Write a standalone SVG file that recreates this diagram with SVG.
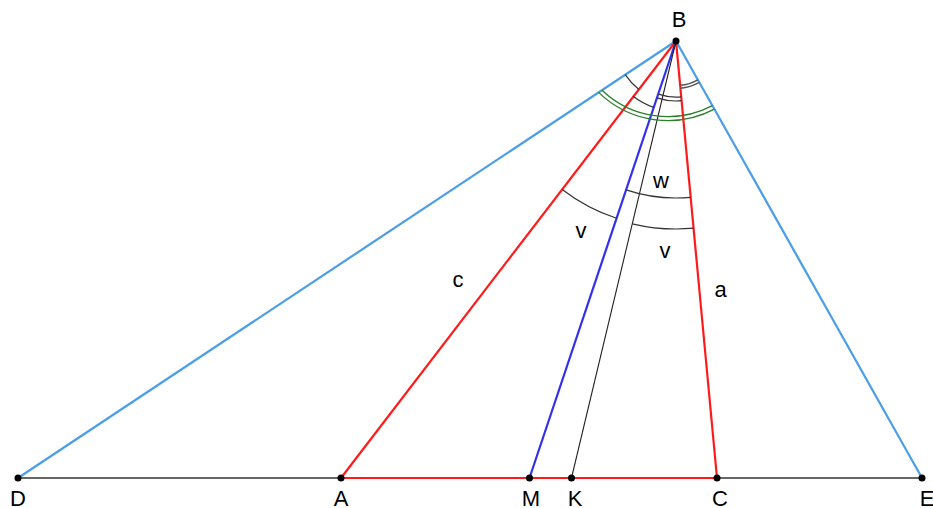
<svg xmlns="http://www.w3.org/2000/svg" width="933" height="508" viewBox="0 0 933 508">
<style>
text{font-family:"Liberation Sans",Arial,sans-serif;font-size:22px;fill:#000;text-anchor:middle}
.pt{fill:#000}
.base{stroke:#333;stroke-width:1.3;fill:none}
.red{stroke:#ff1a1a;stroke-width:2.2;fill:none}
.lblue{stroke:#4a9de8;stroke-width:2.2;fill:none}
.dblue{stroke:#3030ee;stroke-width:2.2;fill:none}
.thin{stroke:#222;stroke-width:1.1;fill:none}
.arc{stroke:#333;stroke-width:1.2;fill:none}
.garc{stroke:#2a7f2a;stroke-width:1.3;fill:none}
.gray{stroke:#555;stroke-width:1.4;fill:none}
</style>
<rect width="933" height="508" fill="#fff"/>
<g id="connectors">
<line class="base" x1="18" y1="478" x2="922" y2="478"/>
<line class="red" x1="341" y1="478" x2="717" y2="478"/>
<line class="lblue" x1="676" y1="41" x2="18" y2="478"/>
<line class="lblue" x1="676" y1="41" x2="922" y2="478"/>
<line class="red" x1="676" y1="41" x2="341" y2="478"/>
<line class="red" x1="676" y1="41" x2="717" y2="478"/>
<line class="dblue" x1="676" y1="41" x2="529.5" y2="478"/>
<line class="thin" x1="676" y1="41" x2="571.5" y2="478"/>
</g>
<g id="angles">
<path class="arc" d="M625.2,74.7 A61,61 0 0 0 638.9,89.4"/>
<path class="arc" d="M633.4,96.6 A70,70 0 0 0 653.7,107.4"/>
<path class="arc" d="M658.2,94.1 A56,56 0 0 0 681.2,96.8"/>
<path class="arc" d="M656.9,97.9 A60,60 0 0 0 681.6,100.7"/>
<path class="gray" d="M680.2,85.3 A44.5,44.5 0 0 0 697.8,79.8"/>
<path class="gray" d="M680.4,88.3 A47.5,47.5 0 0 0 699.3,82.4"/>
<path class="garc" d="M598.6,92.4 A99.6,99.6 0 0 0 714.4,109.2"/>
<path class="garc" d="M602.0,90.2 A95.6,95.6 0 0 0 712.4,105.7"/>
<path class="arc" d="M562.2,189.4 A187,187 0 0 0 616.6,218.3"/>
<path class="arc" d="M626.1,189.9 A157,157 0 0 0 690.7,197.3"/>
<path class="arc" d="M632.3,223.8 A188,188 0 0 0 693.6,228.2"/>
<text x="581" y="238">v</text>
<text x="665" y="258">v</text>
<text x="661" y="188">w</text>
</g>
<g id="segment-labels">
<text x="458" y="286.5">c</text>
<text x="720.5" y="296.5">a</text>
</g>
<g id="node-B"><circle class="pt" cx="676" cy="41" r="3.5"/><text x="679" y="27">B</text></g>
<g id="node-D"><circle class="pt" cx="18" cy="478" r="3.5"/><text x="18" y="506">D</text></g>
<g id="node-A"><circle class="pt" cx="341" cy="478" r="3.5"/><text x="341" y="506">A</text></g>
<g id="node-M"><circle class="pt" cx="529.5" cy="478" r="3.5"/><text x="531" y="506">M</text></g>
<g id="node-K"><circle class="pt" cx="571.5" cy="478" r="3.5"/><text x="575" y="506">K</text></g>
<g id="node-C"><circle class="pt" cx="717" cy="478" r="3.5"/><text x="720" y="506">C</text></g>
<g id="node-E"><circle class="pt" cx="922" cy="478" r="3.5"/><text x="927" y="506">E</text></g>
</svg>
